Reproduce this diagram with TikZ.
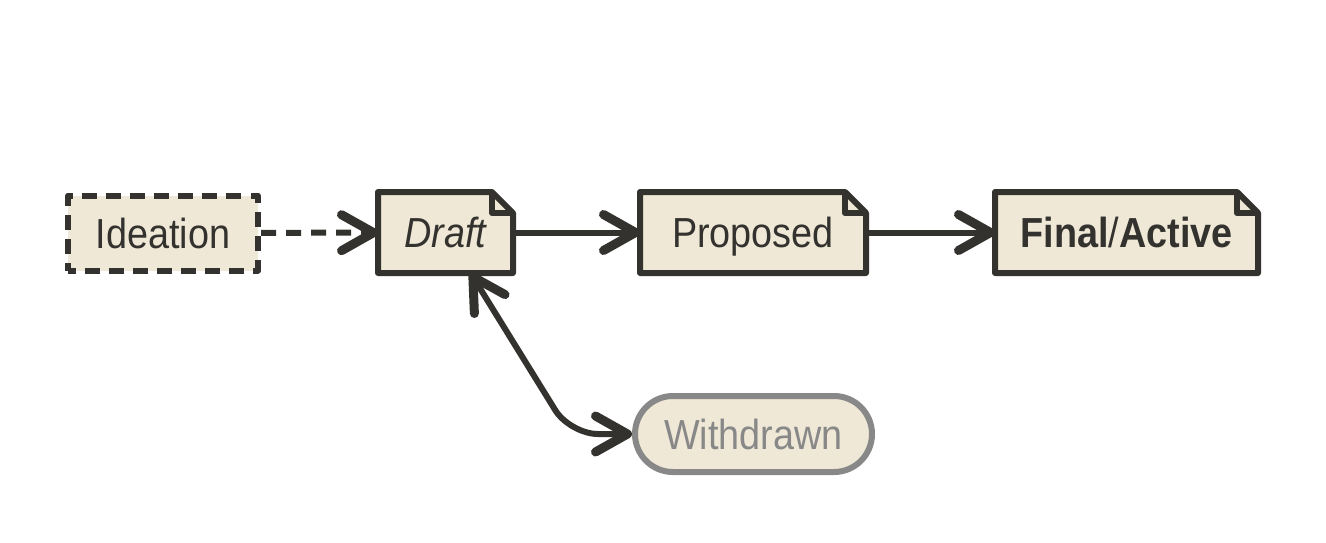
\documentclass[tikz,border=0pt]{standalone}
\usepackage{fontspec}
\setmainfont{Liberation Sans}[FakeStretch=0.9]
\usetikzlibrary{arrows.meta,shapes.misc,backgrounds}
\definecolor{ink}{HTML}{33322E}
\definecolor{paper}{HTML}{EFE8D6}
\definecolor{faded}{HTML}{888888}
\tikzset{
    state/.style={draw=ink, fill=paper, line width=3pt, line join=round, text=ink, inner sep=0pt,
        minimum height=37.5pt, text height=15pt, text depth=0pt, font=\fontsize{21}{25}\selectfont},
    note/.style={draw=none, fill=none},
    notebody/.style={draw=ink, fill=paper, line width=3pt, line join=round},
    pill/.style={rounded rectangle, draw=faded, text=faded}
}
\begin{document}
\begin{tikzpicture}[x=0.5pt, y=-0.5pt, >={Straight Barb[length=16pt,width=18pt,line width=4.5pt,round]}]
    \useasboundingbox (0,0) rectangle (1326,542);
    \begin{scope}[every node/.style={state}]
        \node (ideation) [dash pattern=on 7.5pt off 4.545pt, dash phase=3.75pt, minimum width=95pt] at (163,233) {Ideation};
        \node (draft) [note, minimum width=64.5pt] at (445.5,232.5) {\itshape Draft};
        \node (proposed) [note, minimum width=110pt] at (753,232.5) {Proposed};
        \node (final) [note, minimum width=128.5pt] at (1126.5,232.5) {\textbf{Final}/\textbf{Active}};
        \node (withdrawn) [pill, minimum width=118.5pt, minimum height=38pt] at (753.5,434) {Withdrawn};
    \end{scope}
    % page outline with folded corner
    \begin{scope}[on background layer]
        \foreach \n in {draft,proposed,final} {
            \path[notebody] (\n.south west) -- (\n.north west) -- ([xshift=-10.5pt]\n.north east)
                -- ([yshift=-10.5pt]\n.north east) -- (\n.south east) -- cycle;
            \draw[notebody, fill=none] ([xshift=-10.5pt]\n.north east) -- ([xshift=-10.5pt,yshift=-10.5pt]\n.north east)
                -- ([yshift=-10.5pt]\n.north east);
        }
    \end{scope}
    \coordinate (bend) at (570,434);
    \begin{scope}[every edge/.style={draw=ink, line width=3pt, ->}]
        \path
            (ideation) edge [dash pattern=on 7.5pt off 5pt] (draft)
            (draft) edge (proposed)
            (proposed) edge (final);
    \end{scope}
    \draw[ink, line width=3pt, <->, rounded corners=14pt] (draft) -- (bend) -- (withdrawn);
\end{tikzpicture}
\end{document}
